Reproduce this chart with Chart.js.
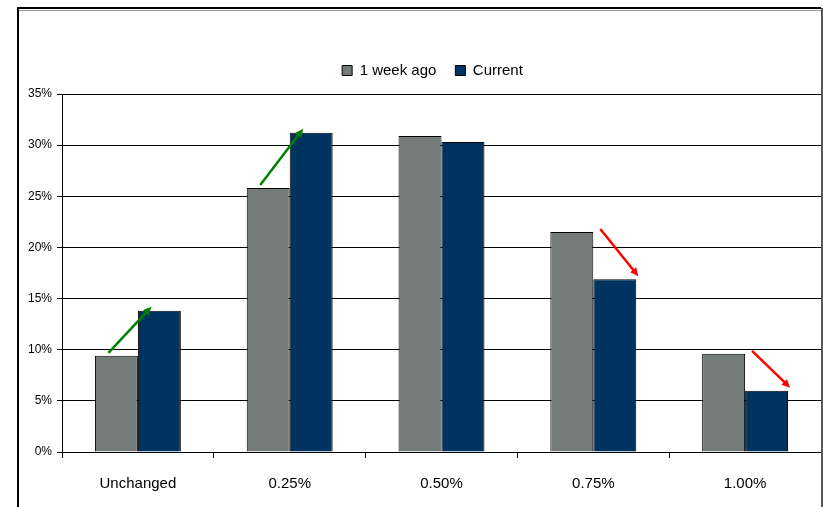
<!DOCTYPE html>
<html>
<head>
<meta charset="utf-8">
<script src="https://cdn.jsdelivr.net/npm/chart.js@4.4.1/dist/chart.umd.min.js"></script>
<style>
    html, body { margin: 0; padding: 0; background: #ffffff; }
    #wrap { width: 823px; height: 507px; position: relative; }
</style>
</head>
<body>
<div id="wrap"><canvas id="graphique"></canvas></div>
<script>
// Données
const categories = ["Unchanged", "0.25%", "0.50%", "0.75%", "1.00%"];
const semainePassee = [9.4, 25.8, 30.9, 21.5, 9.6];
const actuel = [13.8, 31.2, 30.3, 16.9, 6.0];
const nomsSeries = ["1 week ago", "Current"];
const yTicks = ["0%", "5%", "10%", "15%", "20%", "25%", "30%", "35%"];
// Flèches : "up" = verte, "down" = rouge, null = rien
const fleches = ["up", "up", null, "down", "down"];

const police = "'Liberation Sans', Arial, sans-serif";

// Cadre autour du graphique
const cadrePlugin = {
    id: "cadre",
    afterDraw(chart) {
        const ctx = chart.ctx;
        ctx.save();
        ctx.strokeStyle = "#000000";
        ctx.lineWidth = 2;
        ctx.beginPath();
        ctx.moveTo(18, 507);
        ctx.lineTo(18, 8);
        ctx.lineTo(821, 8);
        ctx.stroke();
        ctx.strokeStyle = "#999999";
        ctx.lineWidth = 1;
        ctx.beginPath();
        ctx.moveTo(19, 10.5);
        ctx.lineTo(821, 10.5);
        ctx.stroke();
        ctx.strokeStyle = "#555555";
        ctx.lineWidth = 2;
        ctx.beginPath();
        ctx.moveTo(822, 8);
        ctx.lineTo(822, 507);
        ctx.stroke();
        ctx.restore();
    }
};

// Dessin d'une flèche entre deux points
function dessinerFleche(ctx, x1, y1, x2, y2, couleur) {
    const angle = Math.atan2(y2 - y1, x2 - x1);
    const tete = 9;
    ctx.save();
    ctx.strokeStyle = couleur;
    ctx.fillStyle = couleur;
    ctx.lineWidth = 2.5;
    ctx.beginPath();
    ctx.moveTo(x1, y1);
    ctx.lineTo(x2 - Math.cos(angle) * tete * 0.8, y2 - Math.sin(angle) * tete * 0.8);
    ctx.stroke();
    ctx.beginPath();
    ctx.moveTo(x2, y2);
    ctx.lineTo(x2 - tete * Math.cos(angle - 0.45), y2 - tete * Math.sin(angle - 0.45));
    ctx.lineTo(x2 - tete * Math.cos(angle + 0.45), y2 - tete * Math.sin(angle + 0.45));
    ctx.closePath();
    ctx.fill();
    ctx.restore();
}

// Flèches de variation, placées à partir des barres de Chart.js
const flechesPlugin = {
    id: "fleches",
    afterDatasetsDraw(chart) {
        const ctx = chart.ctx;
        const barresA = chart.getDatasetMeta(0).data;
        const barresB = chart.getDatasetMeta(1).data;
        for (let i = 0; i < fleches.length; i++) {
            const a = barresA[i];
            const b = barresB[i];
            if (fleches[i] === "up") {
                dessinerFleche(ctx, a.x - 8, a.y - 3, b.x - 8, b.y - 4, "#008000");
            } else if (fleches[i] === "down") {
                dessinerFleche(ctx, a.x + a.width / 2 + 7, a.y - 3, b.x + b.width / 2 + 2, b.y - 3, "#ff0000");
            }
        }
    }
};

// Hauteur fixe de la légende et léger décalage vers la droite
const legendePlugin = {
    id: "legendeHauteur",
    beforeInit(chart) {
        const fitOrigine = chart.legend.fit;
        chart.legend.fit = function () {
            fitOrigine.bind(chart.legend)();
            this.height = 50;
        };
        const drawOrigine = chart.legend.draw;
        chart.legend.draw = function () {
            chart.ctx.save();
            chart.ctx.translate(13, 0);
            drawOrigine.bind(chart.legend)();
            chart.ctx.restore();
        };
    }
};

const data = {
    labels: categories,
    datasets: [{
        label: nomsSeries[0],
        data: semainePassee,
        backgroundColor: "#747c79",
        borderColor: "#000000",
        borderWidth: 1,
        borderSkipped: "bottom",
    }, {
        label: nomsSeries[1],
        data: actuel,
        backgroundColor: "#00335f",
        borderColor: "#000000",
        borderWidth: 1,
        borderSkipped: "bottom",
    }],
};

const config = {
    type: "bar",
    data: data,
    options: {
        responsive: true,
        maintainAspectRatio: false,
        animation: false,
        devicePixelRatio: 1,
        layout: { padding: { left: 18, right: 2, top: 44, bottom: 0 } },
        datasets: {
            bar: { categoryPercentage: 0.566, barPercentage: 1.0 }
        },
        plugins: {
            legend: {
                position: "top",
                labels: {
                    boxWidth: 10,
                    boxHeight: 10,
                    padding: 19,
                    color: "#000000",
                    font: { family: police, size: 15 },
                },
            },
            tooltip: { enabled: false },
        },
        scales: {
            x: {
                afterFit(scale) { scale.height = 55; },
                grid: {
                    offset: true,
                    drawOnChartArea: false,
                    drawTicks: true,
                    tickLength: 6,
                    color: "#000000",
                },
                border: { color: "#000000", width: 1 },
                ticks: {
                    color: "#000000",
                    padding: 17,
                    font: { family: police, size: 15 },
                },
            },
            y: {
                min: 0,
                max: 35,
                afterFit(scale) { scale.width = 44; },
                grid: {
                    color: "#000000",
                    tickLength: 5,
                },
                border: { color: "#000000", width: 1 },
                ticks: {
                    stepSize: 5,
                    color: "#000000",
                    padding: 5,
                    font: { family: police, size: 12 },
                    callback: function (valeur, index) { return yTicks[index]; },
                },
            },
        },
    },
    plugins: [cadrePlugin, flechesPlugin, legendePlugin],
};

const graphique = new Chart(document.querySelector("#graphique"), config);
</script>
</body>
</html>
